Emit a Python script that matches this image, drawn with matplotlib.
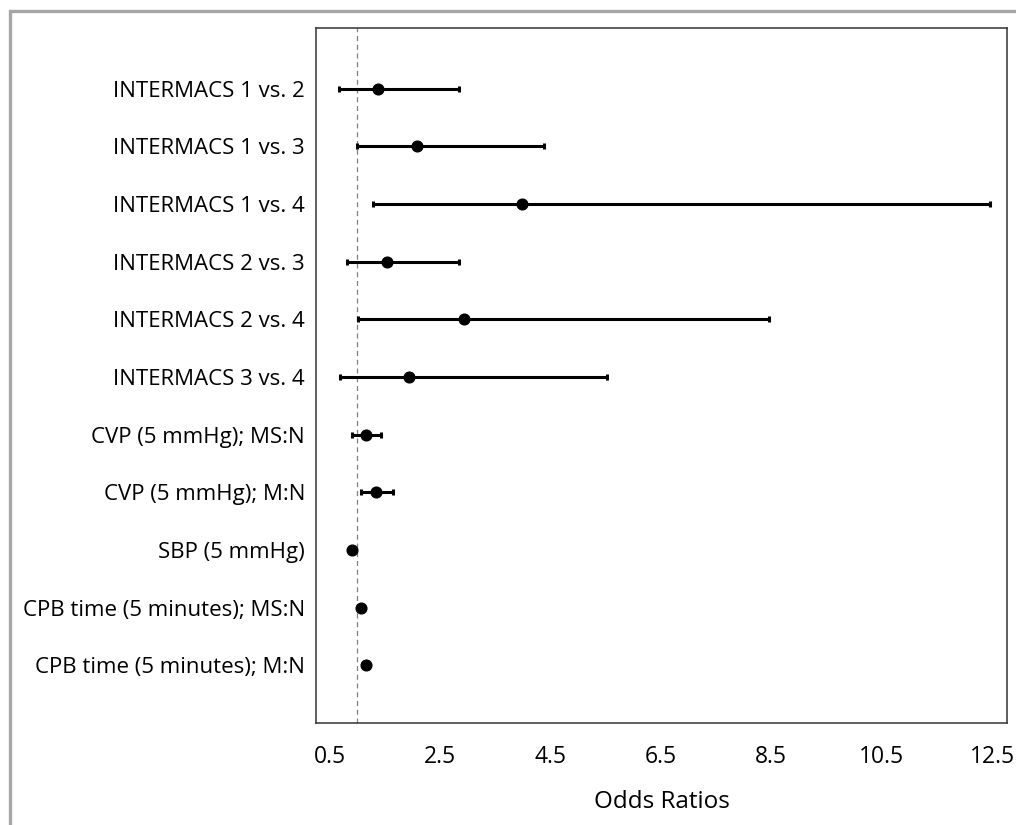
import matplotlib
matplotlib.use("Agg")
import matplotlib.pyplot as plt
from matplotlib.patches import Rectangle

labels = [
    "INTERMACS 1 vs. 2",
    "INTERMACS 1 vs. 3",
    "INTERMACS 1 vs. 4",
    "INTERMACS 2 vs. 3",
    "INTERMACS 2 vs. 4",
    "INTERMACS 3 vs. 4",
    "CVP (5 mmHg); MS:N",
    "CVP (5 mmHg); M:N",
    "SBP (5 mmHg)",
    "CPB time (5 minutes); MS:N",
    "CPB time (5 minutes); M:N",
]
odds = [1.38, 2.08, 3.99, 1.53, 2.93, 1.94, 1.15, 1.33, 0.90, 1.06, 1.15]
lower = [0.66, 0.99, 1.28, 0.82, 1.02, 0.69, 0.90, 1.07, 0.88, 1.04, 1.13]
upper = [2.85, 4.38, 12.47, 2.85, 8.46, 5.52, 1.42, 1.65, 0.92, 1.08, 1.17]
xticks = [0.5, 2.5, 4.5, 6.5, 8.5, 10.5, 12.5]
xticklabels = ["0.5", "2.5", "4.5", "6.5", "8.5", "10.5", "12.5"]

plt.rcParams['font.family'] = ['Open Sans', 'DejaVu Sans']

fig = plt.figure(figsize=(10.16, 8.25), dpi=100)
ax = fig.add_axes([316/1016, 1 - 723/825, (1007-316)/1016, (723-28)/825])

n = len(labels)
ypos = list(range(n, 0, -1))
xerr = [[o - l for o, l in zip(odds, lower)], [u - o for o, u in zip(odds, upper)]]

ax.axvline(1.0, color="#808080", linestyle=(0, (4, 3)), linewidth=0.9, zorder=1)
ax.errorbar(odds, ypos, xerr=xerr, fmt="o", color="black", ecolor="black",
            markersize=7.7, elinewidth=2.2, capsize=2.5, capthick=2.2, zorder=3)

ax.set_xlim(0.25, 12.77)
ax.set_ylim(0, 12.05)
ax.set_xticks(xticks)
ax.set_xticklabels(xticklabels, fontsize=16.5)
ax.set_yticks(ypos)
ax.set_yticklabels(labels, fontsize=16)
ax.tick_params(axis="x", length=0, pad=16)
ax.tick_params(axis="y", length=0, pad=8)
ax.set_xlabel("Odds Ratios", fontsize=17.5, labelpad=15)
for s in ax.spines.values():
    s.set_color("#333333")
    s.set_linewidth(1.1)

border = Rectangle((10/1016, -0.1), 1.2, (825-11)/825 + 0.1, transform=fig.transFigure,
                   fill=False, edgecolor="#a6a6a6", linewidth=2.4, zorder=0)
fig.patches.append(border)

fig.savefig("out.png", dpi=100)
